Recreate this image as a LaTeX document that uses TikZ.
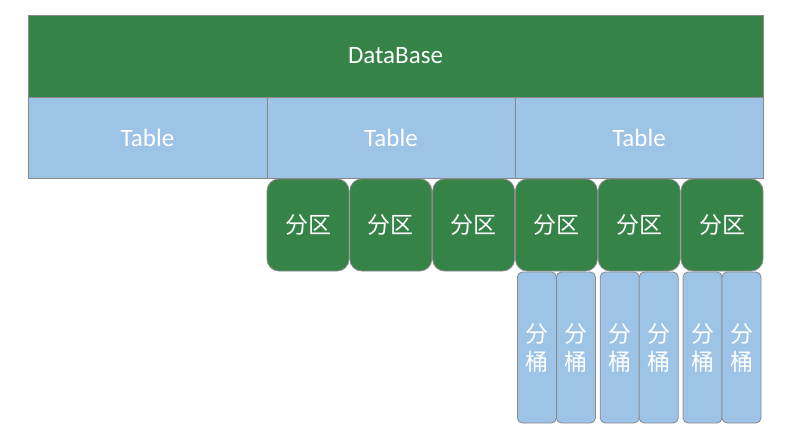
\documentclass[tikz,border=0pt]{standalone}
\usepackage{fontspec}
\setmainfont{Carlito}
\newfontfamily\cjk{Noto Sans CJK SC}
\usepackage{xcolor}
\usepackage{tikz}
\usetikzlibrary{positioning}
\definecolor{dbgreen}{RGB}{53,131,71}
\definecolor{tblue}{RGB}{157,195,230}
\definecolor{edge}{RGB}{137,137,137}

\begin{document}
\begin{tikzpicture}[
    x=1pt, y=-1pt,
    base/.style={
        draw=edge, line width=0.8pt, text=white, outer sep=0pt, inner sep=0pt
      },
    dbbox/.style={
        base, fill=dbgreen, font=\fontsize{25}{30}\selectfont,
        minimum width=735pt, minimum height=82pt
      },
    tabbox/.style={
        base, fill=tblue, font=\fontsize{25}{30}\selectfont,
        minimum height=81pt
      },
    partbox/.style={
        base, fill=dbgreen, rounded corners=12pt, font=\cjk\fontsize{23}{28}\selectfont,
        minimum width=82pt, minimum height=92pt
      },
    buckbox/.style={
        base, fill=tblue, rounded corners=5pt, align=center,
        font=\cjk\fontsize{23}{28}\selectfont,
        minimum width=39pt, minimum height=151pt
      },
    node distance=0.8pt
  ]
  \useasboundingbox (0,0) rectangle (792,439);

  \node[dbbox, anchor=north west] (db) at (28,15) {DataBase};

  \node[tabbox, minimum width=239pt, anchor=north west] (tab1) at (db.south west) {Table};
  \node[tabbox, minimum width=248pt, right=0pt of tab1] (tab2) {Table};
  \node[tabbox, minimum width=248pt, right=0pt of tab2] (tab3) {Table};

  \node[partbox, below right=1pt and 0pt of tab2.south west, anchor=north west] (part1) {分区};
  \node[partbox, right=of part1] (part2) {分区};
  \node[partbox, right=of part2] (part3) {分区};
  \node[partbox, right=of part3] (part4) {分区};
  \node[partbox, right=of part4] (part5) {分区};
  \node[partbox, right=of part5] (part6) {分区};

  \node[buckbox, below left=1pt and 0pt of part4.south, anchor=north east] (buck1) {分\\桶};
  \node[buckbox, below right=1pt and 0pt of part4.south, anchor=north west] (buck2) {分\\桶};
  \node[buckbox, below left=1pt and 0pt of part5.south, anchor=north east] (buck3) {分\\桶};
  \node[buckbox, below right=1pt and 0pt of part5.south, anchor=north west] (buck4) {分\\桶};
  \node[buckbox, below left=1pt and 0pt of part6.south, anchor=north east] (buck5) {分\\桶};
  \node[buckbox, below right=1pt and 0pt of part6.south, anchor=north west] (buck6) {分\\桶};

\end{tikzpicture}
\end{document}
